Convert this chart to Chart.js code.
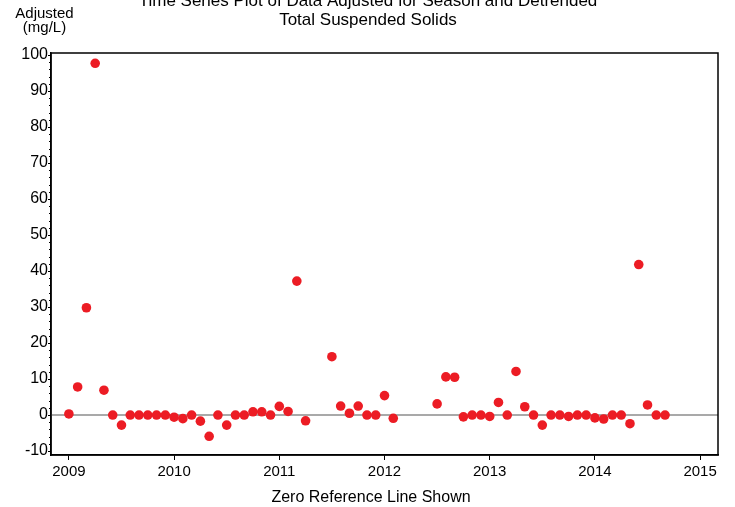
<!DOCTYPE html>
<html>
<head>
<meta charset="utf-8">
<script src="https://cdn.jsdelivr.net/npm/chart.js@4.4.0/dist/chart.umd.min.js"></script>
<style>
  body { margin: 0; background: #fff; }
  #wrap { position: relative; width: 735px; height: 507px; }
</style>
</head>
<body>
<div id="wrap"><canvas id="tss-chart"></canvas></div>
<script>
// sample months (YYYY-MM) and detrended, season-adjusted TSS (mg/L)
const months = [
    '2009-01', '2009-02', '2009-03', '2009-04', '2009-05', '2009-06', '2009-07', '2009-08', '2009-09', '2009-10', '2009-11', '2009-12',
    '2010-01', '2010-02', '2010-03', '2010-04', '2010-05', '2010-06', '2010-07', '2010-08', '2010-09', '2010-10', '2010-11', '2010-12',
    '2011-01', '2011-02', '2011-03', '2011-04', '2011-07', '2011-08', '2011-09', '2011-10', '2011-11', '2011-12',
    '2012-01', '2012-02', '2012-07', '2012-08', '2012-09', '2012-10', '2012-11', '2012-12',
    '2013-01', '2013-02', '2013-03', '2013-04', '2013-05', '2013-06', '2013-07', '2013-08', '2013-09', '2013-10', '2013-11', '2013-12',
    '2014-01', '2014-02', '2014-03', '2014-04', '2014-05', '2014-06', '2014-07', '2014-08', '2014-09'
];
const adjusted = [
    0.3, 7.8, 29.8, 97.7, 6.9, 0, -2.8, 0, 0, 0, 0, 0,
    -0.6, -1.0, 0, -1.7, -5.9, 0, -2.8, 0, 0, 0.9, 0.9, 0,
    2.4, 1.0, 37.2, -1.6, 16.2, 2.5, 0.5, 2.5, 0, 0,
    5.4, -0.9, 3.1, 10.6, 10.5, -0.5, 0, 0,
    -0.4, 3.5, 0, 12.1, 2.3, 0, -2.8, 0, 0, -0.4, 0, 0,
    -0.8, -1.1, 0, 0, -2.4, 41.8, 2.8, 0, 0
];
const xTicks = [2009, 2010, 2011, 2012, 2013, 2014, 2015];
const yTicks = [-10, 0, 10, 20, 30, 40, 50, 60, 70, 80, 90, 100];
const yMinorStep = 2;

const titleLines = ['Time Series Plot of Data Adjusted for Season and Detrended', 'Total Suspended Solids'];
const yTitleLines = ['Adjusted', '(mg/L)'];
const xTitle = 'Zero Reference Line Shown';

const FONT = '"Liberation Sans", Arial, Helvetica, sans-serif';

function toYear(m) {
    const [y, mo] = m.split('-').map(Number);
    return y + (mo - 1) / 12;
}

const points = months.map((m, i) => ({ x: toYear(m), y: adjusted[i] }));

// zero line, frame, minor ticks and the text around the plot
const decorPlugin = {
    id: 'decor',
    beforeDatasetsDraw(chart) {
        const { ctx, chartArea } = chart;
        const y0 = chart.scales.y.getPixelForValue(0);
        ctx.save();
        ctx.strokeStyle = '#8c8c8c';
        ctx.lineWidth = 1.5;
        ctx.beginPath();
        ctx.moveTo(chartArea.left, y0);
        ctx.lineTo(chartArea.right, y0);
        ctx.stroke();
        ctx.restore();
    },
    afterDraw(chart) {
        const { ctx, chartArea } = chart;
        const ys = chart.scales.y;
        ctx.save();
        ctx.strokeStyle = '#000';
        ctx.lineWidth = 1.5;
        ctx.strokeRect(chartArea.left, chartArea.top, chartArea.right - chartArea.left, chartArea.bottom - chartArea.top);

        ctx.lineWidth = 1;
        ctx.beginPath();
        for (let v = yTicks[0]; v <= yTicks[yTicks.length - 1]; v += yMinorStep) {
            if (v % 10 === 0) continue;
            const py = Math.round(ys.getPixelForValue(v)) + 0.5;
            ctx.moveTo(chartArea.left - 2, py);
            ctx.lineTo(chartArea.left, py);
        }
        ctx.stroke();

        ctx.fillStyle = '#000';
        ctx.textAlign = 'center';
        ctx.textBaseline = 'alphabetic';
        ctx.font = '17px ' + FONT;
        ctx.fillText(titleLines[0], 368, 6);
        ctx.fillText(titleLines[1], 368, 25);
        ctx.font = '15px ' + FONT;
        ctx.fillText(yTitleLines[0], 44.5, 17.5);
        ctx.fillText(yTitleLines[1], 44.5, 32);
        ctx.font = '16px ' + FONT;
        ctx.fillText(xTitle, 371, 501.5);
        ctx.restore();
    }
};

function initChart() {
    const ctx = document.getElementById('tss-chart').getContext('2d');
    new Chart(ctx, {
        type: 'scatter',
        data: {
            datasets: [{
                label: 'Adjusted TSS',
                data: points,
                backgroundColor: '#ec1c24',
                borderWidth: 0,
                pointRadius: 4.8,
                pointHoverRadius: 4.8
            }]
        },
        options: {
            responsive: true,
            maintainAspectRatio: false,
            animation: false,
            layout: { padding: { top: 53, right: 17, left: 0, bottom: 0 } },
            plugins: {
                legend: { display: false },
                tooltip: { enabled: false },
                title: { display: false }
            },
            scales: {
                x: {
                    type: 'linear',
                    min: 2008.83,
                    max: 2015.17,
                    afterBuildTicks: s => { s.ticks = xTicks.map(v => ({ value: v })); },
                    afterFit: s => { s.height = 52; },
                    grid: { drawOnChartArea: false, drawTicks: true, tickLength: 5, color: '#000', lineWidth: 1 },
                    border: { display: true, color: '#000', width: 1.5 },
                    ticks: {
                        color: '#000',
                        padding: 3,
                        font: { family: FONT, size: 15 },
                        maxRotation: 0,
                        callback: v => String(v)
                    }
                },
                y: {
                    type: 'linear',
                    min: -11.1,
                    max: 100.56,
                    afterBuildTicks: s => { s.ticks = yTicks.map(v => ({ value: v })); },
                    afterFit: s => { s.width = 51; },
                    grid: { drawOnChartArea: false, drawTicks: true, tickLength: 3, color: '#000', lineWidth: 1 },
                    border: { display: true, color: '#000', width: 1.5 },
                    ticks: {
                        color: '#000',
                        padding: 0,
                        font: { family: FONT, size: 16 },
                        callback: v => String(v)
                    }
                }
            }
        },
        plugins: [decorPlugin]
    });
}

document.addEventListener('DOMContentLoaded', () => {
    initChart();
});
</script>
</body>
</html>
